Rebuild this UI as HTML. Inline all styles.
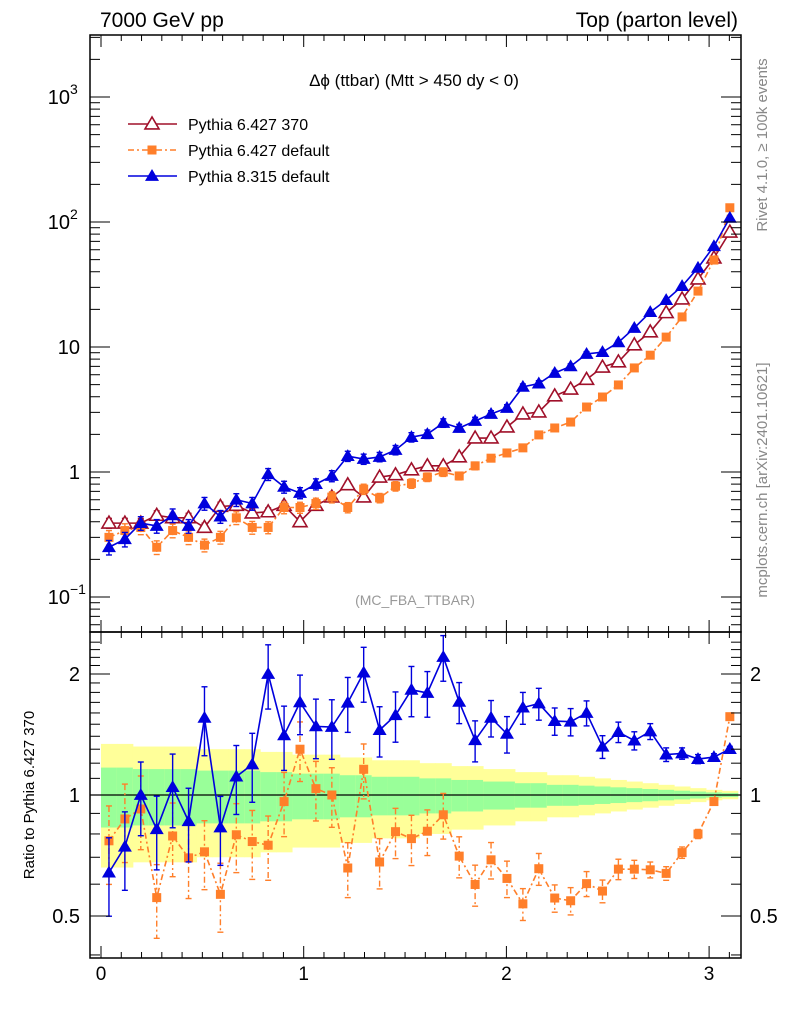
<!DOCTYPE html>
<html><head><meta charset="utf-8"><style>
body{margin:0;background:#fff;}
svg{display:block;font-family:"Liberation Sans",sans-serif;}
</style></head><body>
<svg id="c" width="786" height="1024" viewBox="0 0 786 1024"></svg>
<script>
const binCount = 40;
const refVals = [0.39,0.39,0.39,0.45,0.43,0.43,0.36,0.53,0.54,0.47,0.48,0.54,0.40,0.54,0.63,0.79,0.63,0.91,0.95,1.04,1.12,1.12,1.32,1.87,1.87,2.29,2.91,3.02,4.06,4.6,5.5,6.9,7.6,10.4,13.2,18.8,24.2,35,51.5,83];
const p6defVals = [0.30,0.34,0.36,0.25,0.34,0.30,0.26,0.30,0.43,0.36,0.36,0.52,0.52,0.56,0.63,0.52,0.73,0.62,0.77,0.81,0.91,1.0,0.93,1.12,1.29,1.42,1.56,1.98,2.25,2.51,3.31,3.98,4.97,6.8,8.6,12.0,17.4,28,49.6,130];
const p8Vals = [0.25,0.29,0.39,0.37,0.45,0.37,0.56,0.44,0.60,0.56,0.96,0.76,0.68,0.80,0.93,1.34,1.27,1.32,1.50,1.90,2.01,2.47,2.25,2.56,2.91,3.25,4.8,5.1,6.2,7.0,8.8,9.1,10.9,14.2,19.0,23.7,30.7,43,64,108];
const relErr = [0.17,0.17,0.16,0.16,0.16,0.16,0.15,0.15,0.15,0.15,0.14,0.14,0.13,0.13,0.13,0.12,0.12,0.11,0.11,0.11,0.10,0.10,0.09,0.09,0.08,0.08,0.07,0.07,0.06,0.06,0.055,0.05,0.045,0.04,0.035,0.03,0.025,0.02,0.015,0.012];
const xTicks = [0,1,2,3];
const mainTicks = [{v:1000,t:'10',e:'3'},{v:100,t:'10',e:'2'},{v:10,t:'10'},{v:1,t:'1'},{v:0.1,t:'10',e:'−1'}];
const ratioTicks = [{v:2,t:'2'},{v:1,t:'1'},{v:0.5,t:'0.5'}];

const NS='http://www.w3.org/2000/svg';
const svg=document.getElementById('c');
function el(tag,attrs,parent){const e=document.createElementNS(NS,tag);for(const k in attrs)e.setAttribute(k,attrs[k]);(parent||svg).appendChild(e);return e;}
const L=90,R=741,T=35,MB=632,RB=958;
const X=v=>101+v*202.7;
const Y=v=>472-125*Math.log10(v);
const YR=v=>795-121*Math.log2(v);
const bw=Math.PI/binCount;
const cx=i=>(i+0.5)*bw;

// ratio bands
const bands=el('g',{});


for(let i=0;i<binCount;i++){
  const x0=X(i*bw),x1=X((i+1)*bw);
  const y2=el('rect',{x:x0,y:YR(1+2*relErr[i]),width:x1-x0+0.5,height:YR(1-2*relErr[i])-YR(1+2*relErr[i]),fill:'#ffff99'},bands);
  
  
  const g1=el('rect',{x:x0,y:YR(1+relErr[i]),width:x1-x0+0.5,height:YR(1-relErr[i])-YR(1+relErr[i]),fill:'#99ff99'},bands);
  
  
}
el('line',{x1:L,x2:R,y1:YR(1),y2:YR(1),stroke:'#000','stroke-width':1.3});

function marker(g,type,x,y,col){
  if(type==='tri'||type==='otri'){
    const s=7;
    const m=el('polygon',{points:`${x},${y-s} ${x-s},${y+s*0.7} ${x+s},${y+s*0.7}`,fill:type==='tri'?col:'#fff',stroke:col,'stroke-width':type==='tri'?0:1.6},g);
    
    
  } else {
    const m=el('rect',{x:x-4.5,y:y-4.5,width:9,height:9,fill:col},g);
    
    
  }
}
function series(name,vals,errs,yf,type,col,dash,clipTop,clipBot){
  const g=el('g',{});
  
  
  const pts=vals.map((v,i)=>[X(cx(i)),yf(v)]);
  el('polyline',{points:pts.map(p=>p.join(',')).join(' '),fill:'none',stroke:col,'stroke-width':1.6,'stroke-dasharray':dash||'none'},g);
  vals.forEach((v,i)=>{
    const x=pts[i][0];
    const hi=Math.max(clipTop,yf(v*(1+errs[i]))),lo=Math.min(clipBot,yf(v*(1-errs[i])));
    el('line',{x1:x,x2:x,y1:hi,y2:lo,stroke:col,'stroke-width':1.4,'stroke-dasharray':dash||'none'},g);
    el('line',{x1:x-3,x2:x+3,y1:hi,y2:hi,stroke:col,'stroke-width':1.4},g);
    el('line',{x1:x-3,x2:x+3,y1:lo,y2:lo,stroke:col,'stroke-width':1.4},g);
    marker(g,type,x,pts[i][1],col);
  });
}
const RED='#a0102a',ORG='#ff7f2a',BLUE='#0000dd';
const mainErr=relErr.map(e=>e*0.9), otherErr=relErr.map(e=>e*1.3);
series('series-pythia6-370',refVals,mainErr.map(e=>e*0.6),Y,'otri',RED,null,T,MB);
series('series-pythia6-default',p6defVals,otherErr.map(e=>e*0.6),Y,'sq',ORG,'6,3,2,3',T,MB);
series('series-pythia8-default',p8Vals,otherErr.map(e=>e*0.6),Y,'tri',BLUE,null,T,MB);
const rOrg=p6defVals.map((v,i)=>v/refVals[i]);
const rBlue=p8Vals.map((v,i)=>v/refVals[i]);
series('ratio-pythia6-default',rOrg,otherErr,YR,'sq',ORG,'6,3,2,3',MB,RB);
series('ratio-pythia8-default',rBlue,otherErr,YR,'tri',BLUE,null,MB,RB);

// frames
const f1=el('rect',{x:L,y:T,width:R-L,height:MB-T,fill:'none',stroke:'#000','stroke-width':1.5});


const f2=el('rect',{x:L,y:MB,width:R-L,height:RB-MB,fill:'none',stroke:'#000','stroke-width':1.5});



// x ticks
for(let v=0;v<=3.15;v+=0.1){
  const x=X(v),major=Math.abs(v-Math.round(v))<1e-6,len=major?12:6;
  el('line',{x1:x,x2:x,y1:T,y2:T+len,stroke:'#000'});
  el('line',{x1:x,x2:x,y1:MB,y2:MB-len,stroke:'#000'});
  el('line',{x1:x,x2:x,y1:MB,y2:MB+len,stroke:'#000'});
  el('line',{x1:x,x2:x,y1:RB,y2:RB-len,stroke:'#000'});
}
xTicks.forEach(v=>{const t=el('text',{x:X(v),y:980,'font-size':19,'text-anchor':'middle'});t.textContent=v;
  
  });

// main y ticks
for(let d=-2;d<4;d++)for(let m=1;m<10;m++){
  const v=m*Math.pow(10,d),y=Y(v);if(y<T||y>MB)continue;
  const len=m===1?20:10;
  el('line',{x1:L,x2:L+len,y1:y,y2:y,stroke:'#000'});
  el('line',{x1:R,x2:R-len,y1:y,y2:y,stroke:'#000'});
}
mainTicks.forEach(k=>{
  const t=el('text',{x:k.e?70:80,y:Y(k.v)+7,'font-size':20,'text-anchor':'end'});
  t.textContent=k.t;
  
  
  if(k.e){const s=el('text',{x:70,y:Y(k.v)-3,'font-size':14});s.textContent=k.e;}
});
// ratio y ticks
for(let v=0.4;v<=2.5;v+=0.1){const y=YR(v);if(y<MB||y>RB)continue;
  const major=[0.5,1,2].some(a=>Math.abs(a-v)<1e-6),len=major?20:10;
  el('line',{x1:L,x2:L+len,y1:y,y2:y,stroke:'#000'});
  el('line',{x1:R,x2:R-len,y1:y,y2:y,stroke:'#000'});}
ratioTicks.forEach(k=>{
  const t=el('text',{x:80,y:YR(k.v)+7,'font-size':20,'text-anchor':'end'});t.textContent=k.t;
  
  
  const t2=el('text',{x:750,y:YR(k.v)+7,'font-size':20});t2.textContent=k.t;
  
  
});

function txt(name,s,attrs){const t=el('text',attrs);t.textContent=s;return t;}
txt('energy-label','7000 GeV pp',{x:100,y:27,'font-size':21});
txt('process-label','Top (parton level)',{x:738,y:27,'font-size':21,'text-anchor':'end'});
txt('plot-title','Δϕ (ttbar) (Mtt > 450 dy < 0)',{x:414,y:86,'font-size':17,'text-anchor':'middle'});
txt('analysis-label','(MC_FBA_TTBAR)',{x:415,y:605,'font-size':14,'text-anchor':'middle',fill:'#999'});
txt('ratio-y-axis-title','Ratio to Pythia 6.427 370',{x:0,y:0,'font-size':15,'text-anchor':'middle',transform:'translate(34,795) rotate(-90)'});
txt('rivet-label','Rivet 4.1.0, ≥ 100k events',{x:0,y:0,'font-size':15,'text-anchor':'middle',fill:'#888',transform:'translate(767,145) rotate(-90)'});
txt('mcplots-label','mcplots.cern.ch [arXiv:2401.10621]',{x:0,y:0,'font-size':15,'text-anchor':'middle',fill:'#888',transform:'translate(767,480) rotate(-90)'});

// legend
const leg=[['Pythia 6.427 370','otri',RED,null,124],['Pythia 6.427 default','sq',ORG,'6,3,2,3',150],['Pythia 8.315 default','tri',BLUE,null,176]];
leg.forEach(l=>{
  const g=el('g',{});
  
  
  el('line',{x1:128,x2:177,y1:l[4],y2:l[4],stroke:l[2],'stroke-width':1.6,'stroke-dasharray':l[3]||'none'},g);
  marker(g,l[1],152,l[4],l[2]);
  const t=el('text',{x:188,y:l[4]+6,'font-size':16},g);t.textContent=l[0];
});
</script>
</body></html>
